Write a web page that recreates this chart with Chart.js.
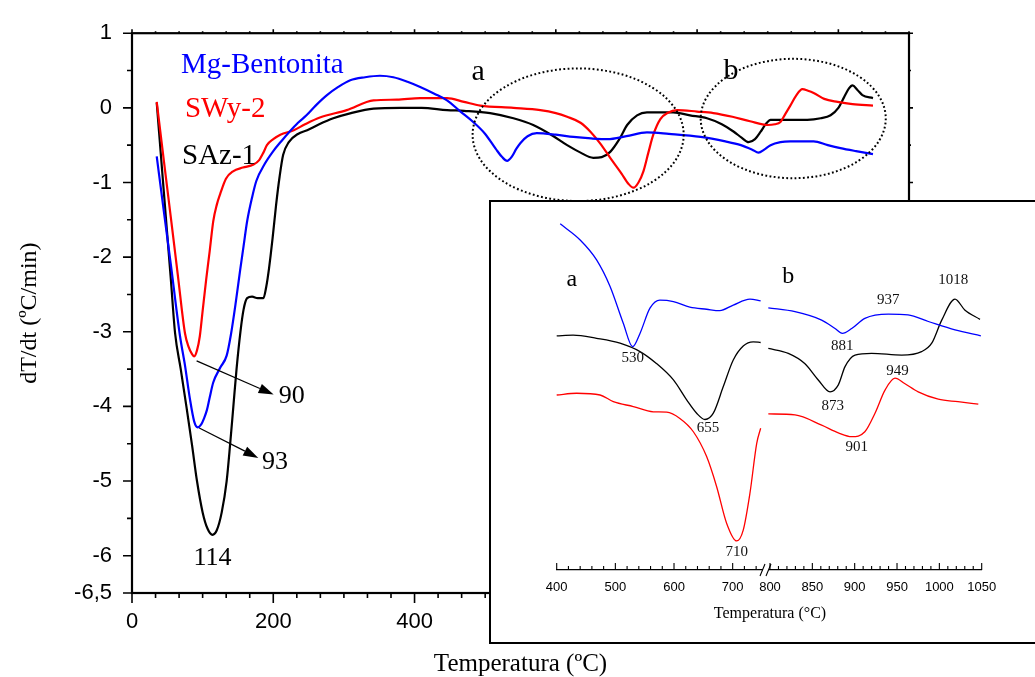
<!DOCTYPE html>
<html>
<head>
<meta charset="utf-8">
<script src="https://cdn.jsdelivr.net/npm/chart.js@4.4.1/dist/chart.umd.min.js"></script>
<style>
  html, body { margin: 0; padding: 0; background: #fff; overflow: hidden; }
  #wrap { position: relative; width: 1035px; height: 677px; overflow: hidden; }
  #main { position: absolute; left: 0; top: 0; }
  #insetBox { position: absolute; left: 489px; top: 200px; width: 600px; height: 444px;
              box-sizing: border-box; border: 2px solid #000; background: #fff; }
  #insetA { position: absolute; left: 489px; top: 200px; }
  #insetB { position: absolute; left: 700px; top: 200px; }
  #insetTitle { position: absolute; left: 690px; top: 604px; width: 160px; text-align: center;
                font: 16px "Liberation Serif", serif; line-height: 18px; color: #000; }
</style>
</head>
<body>
<div id="wrap">
  <canvas id="main" width="1035" height="677"></canvas>
  <div id="insetBox"></div>
  <canvas id="insetA" width="290" height="444"></canvas>
  <canvas id="insetB" width="335" height="444"></canvas>
  <div id="insetTitle">Temperatura (°C)</div>
</div>
<script>
// ---- main curves: temperature (ºC) and dT/dt (ºC/min) ----
const blueT = [35,45,55,68,75,82,88,93,98,102,106,110,115,125,134,140,147,153,158,163,170,176,188,200,212,223,235,247,260,276,292,309,330,351,370,390,408,428,446,465,483,500,515,524,531,538,544,550,560,573,600,625,650,673,700,729,760,805,840,862,878,887,895,904,918,932,950,965,985,1003,1025,1049];
const blueV = [-0.65,-1.38,-2.1,-3.06,-3.45,-3.9,-4.2,-4.28,-4.24,-4.16,-4.05,-3.88,-3.68,-3.48,-3.32,-3.04,-2.6,-2.18,-1.85,-1.52,-1.2,-0.98,-0.75,-0.58,-0.44,-0.32,-0.2,-0.1,0.03,0.17,0.28,0.37,0.41,0.43,0.41,0.35,0.28,0.19,0.1,-0.05,-0.19,-0.35,-0.55,-0.66,-0.71,-0.65,-0.55,-0.47,-0.38,-0.34,-0.36,-0.39,-0.41,-0.42,-0.38,-0.33,-0.35,-0.39,-0.45,-0.5,-0.56,-0.6,-0.56,-0.5,-0.46,-0.45,-0.45,-0.45,-0.5,-0.54,-0.58,-0.62];

const redT = [35,45,55,65,75,80,85,88,92,96,100,105,110,115,120,125,133,143,157,172,180,186,191,200,210,229,245,266,304,342,375,408,446,470,493,540,578,600,616,635,649,663,677,693,703,710,717,724,731,738,748,758,772,800,823,850,875,900,910,918,925,932,940,949,957,965,980,999,1020,1049];
const redV = [0.08,-0.7,-1.47,-2.25,-3.02,-3.2,-3.3,-3.33,-3.25,-3.06,-2.72,-2.3,-1.92,-1.52,-1.3,-1.15,-0.95,-0.85,-0.8,-0.76,-0.7,-0.6,-0.5,-0.42,-0.36,-0.3,-0.22,-0.13,-0.03,0.1,0.11,0.13,0.13,0.08,0.03,0.0,-0.03,-0.07,-0.12,-0.2,-0.32,-0.48,-0.67,-0.88,-1.02,-1.07,-1.0,-0.85,-0.6,-0.36,-0.15,-0.07,-0.03,-0.05,-0.07,-0.12,-0.18,-0.23,-0.22,-0.19,-0.08,0.03,0.16,0.25,0.23,0.2,0.12,0.08,0.05,0.03];

const blackT = [35,45,55,61,69,77,85,92,100,107,114,120,127,134,139,143.5,148,153.5,158,163,170,178,186,190,194,199,204,209,214,222,235,248,265,285,310,342,380,410,446,470,507,540,568,595,616,635,653,665,677,690,701,715,729,766,790,814,835,852,863,873,882,890,897,904,930,956,975,989,1000,1008,1015,1020,1027,1034,1049];
const blackV = [0.07,-1.12,-2.3,-3.02,-3.5,-4.0,-4.52,-5.0,-5.42,-5.64,-5.72,-5.66,-5.42,-5.0,-4.5,-4.0,-3.5,-3.0,-2.7,-2.55,-2.53,-2.55,-2.55,-2.4,-2.15,-1.75,-1.3,-0.92,-0.63,-0.46,-0.35,-0.3,-0.22,-0.14,-0.07,-0.01,0,0,-0.03,-0.04,-0.07,-0.14,-0.23,-0.37,-0.5,-0.6,-0.67,-0.66,-0.59,-0.42,-0.23,-0.1,-0.06,-0.06,-0.1,-0.14,-0.22,-0.32,-0.4,-0.46,-0.42,-0.32,-0.22,-0.16,-0.16,-0.16,-0.14,-0.1,0.0,0.14,0.26,0.3,0.24,0.17,0.13];

// ---- inset, part a (400-750 ºC), arbitrary offset units ----
const blueAT = [406,440,468,491,513.5,529.5,542,559,576,599,627,655.6,678,701,729.5,747.7];
const blueAV = [98.9,94.3,88.6,81.0,70.5,63.8,67.6,74.8,77.1,76.7,75.1,74.5,74.1,75.7,77.4,76.9];
const blackAT = [400,428,468,508,542,570,599,621.6,638.6,652.8,667,684,701,718,735,747.7];
const blackAV = [66.9,67.1,66.2,64.8,62.4,59.0,54.3,48.6,44.8,43.0,44.8,52.4,60.0,64.0,65.2,65.0];
const redAT = [400,434,474,496.5,530.6,564.6,587.5,610,633,655.6,672.7,689.8,706.8,718,729.5,741,747.7];
const redAV = [50.0,50.5,50.0,48.1,46.7,45.2,45.1,43.3,39.5,32.4,23.8,13.3,8.3,11.4,22.0,36.2,40.5];

// ---- inset, part b (800-1050 ºC) ----
const blueBT = [798,829.5,861,876.8,885.4,896.5,912,939.7,963,987,1018.5,1049];
const blueBV = [74.9,73.8,71.4,69.0,67.6,69.0,71.9,73.1,72.9,71.0,68.6,66.9];
const blackBT = [798,821.6,841,857,870.9,880.7,888.6,900.4,920,955.5,979,991,1002.8,1018.5,1030,1048];
const blackBV = [63.3,61.9,59.0,54.3,50.9,52.9,58.1,61.4,61.9,61.4,62.4,64.8,71.4,77.4,74.3,71.6];
const redBT = [798,829.5,861,880.7,896.5,912,924,935.8,947.6,959,975,998.7,1022,1046];
const redBV = [44.6,44.3,41.4,39.2,38.1,39.5,44.8,51.4,54.8,53.3,50.9,48.8,48.1,47.4];

// peak labels
const peakLabelsA = ['530', '655', '710'];
const peakTempsA = [529.5, 658, 706.8];
const peakLevelsA = [60.5, 40.5, 5.2];
const peakLabelsB = ['881', '937', '1018', '873', '949', '901'];
const peakTempsB = [885.4, 939.7, 1016.5, 874, 950.5, 902.4];
const peakLevelsB = [64, 77.1, 82.7, 46.7, 56.9, 35.2];

const SERIF = "'Liberation Serif', 'Times New Roman', serif";
const SANS = "'Liberation Sans', Arial, sans-serif";
const BLUE = '#0000ff', RED = '#ff0000', BLACK = '#000000';

function pts(t, v) { return t.map((x, i) => ({x: x, y: v[i]})); }

function text(ctx, s, px, py, size, color, align, base) {
  ctx.font = size + 'px ' + SERIF;
  ctx.fillStyle = color;
  ctx.textAlign = align || 'center';
  ctx.textBaseline = base || 'alphabetic';
  ctx.fillText(s, px, py);
}

function arrow(ctx, x1, y1, x2, y2) {
  const ang = Math.atan2(y2 - y1, x2 - x1), len = 15, w = 5;
  const bx = x2 - len * Math.cos(ang), by = y2 - len * Math.sin(ang);
  ctx.beginPath();
  ctx.moveTo(x1, y1); ctx.lineTo(bx, by);
  ctx.stroke();
  ctx.beginPath();
  ctx.moveTo(x2, y2);
  ctx.lineTo(bx + w * Math.sin(ang), by - w * Math.cos(ang));
  ctx.lineTo(bx - w * Math.sin(ang), by + w * Math.cos(ang));
  ctx.closePath();
  ctx.fill();
}

// frame and tick marks of the main plot
const mainFrame = {
  id: 'mainFrame',
  afterDatasetsDraw(chart) {
    const {ctx, chartArea: a, scales: {x, y}} = chart;
    ctx.save();
    ctx.strokeStyle = '#000';
    ctx.lineWidth = 1.6;
    ctx.beginPath();
    for (let i = 0; i <= 33; i++) {
      const v = i * 200 / 6;
      const p = x.getPixelForValue(v);
      const major = i % 6 === 0;
      ctx.moveTo(p, a.bottom); ctx.lineTo(p, a.bottom + (major ? 10 : 5));
      ctx.moveTo(p, a.top); ctx.lineTo(p, a.top - (major ? 4 : 2));
    }
    for (let i = 0; i <= 15; i++) {
      const v = -6.5 + i * 0.5;
      const p = y.getPixelForValue(v);
      const major = Number.isInteger(v) || i === 0;
      ctx.moveTo(a.left, p); ctx.lineTo(a.left - (major ? 9 : 5), p);
      ctx.moveTo(a.right, p); ctx.lineTo(a.right + (major ? 4 : 2), p);
    }
    ctx.stroke();
    ctx.lineWidth = 2.2;
    ctx.strokeRect(a.left, a.top, a.right - a.left, a.bottom - a.top);
    ctx.restore();
  }
};

// legend words, dotted rings, arrows and peak labels of the main plot
const mainNotes = {
  id: 'mainNotes',
  afterDatasetsDraw(chart) {
    const {ctx, scales: {x, y}} = chart;
    const X = v => x.getPixelForValue(v), Y = v => y.getPixelForValue(v);
    ctx.save();
    ctx.strokeStyle = '#000';
    ctx.lineWidth = 2;
    ctx.setLineDash([1.8, 2.4]);
    [[631.6, -0.36, 149.4, 0.888], [936.1, -0.143, 131, 0.80]].forEach(r => {
      ctx.beginPath();
      ctx.ellipse(X(r[0]), Y(r[1]), X(r[0] + r[2]) - X(r[0]), Y(r[1]) - Y(r[1] + r[3]), 0, 0, 2 * Math.PI);
      ctx.stroke();
    });
    ctx.setLineDash([]);
    ctx.lineWidth = 1.2;
    ctx.fillStyle = '#000';
    arrow(ctx, X(91.5), Y(-3.39), X(200.5), Y(-3.84));
    arrow(ctx, X(95.2), Y(-4.29), X(178.8), Y(-4.69));

    text(ctx, 'Mg-Bentonita', X(69.4), Y(0.47), 29, BLUE, 'left');
    text(ctx, 'SWy-2', X(75), Y(-0.12), 29, RED, 'left');
    text(ctx, 'SAz-1', X(70.8), Y(-0.75), 29, BLACK, 'left');
    text(ctx, 'a', X(490), Y(0.37), 30, BLACK);
    text(ctx, 'b', X(848), Y(0.39), 30, BLACK);
    text(ctx, '90', X(226), Y(-3.96), 26, BLACK);
    text(ctx, '93', X(202.5), Y(-4.84), 26, BLACK);
    text(ctx, '114', X(114), Y(-6.13), 26, BLACK);
    ctx.restore();
  }
};

new Chart(document.getElementById('main'), {
  type: 'line',
  data: {
    datasets: [
      {label: 'Mg-Bentonita', data: pts(blueT, blueV), borderColor: BLUE},
      {label: 'SWy-2', data: pts(redT, redV), borderColor: RED},
      {label: 'SAz-1', data: pts(blackT, blackV), borderColor: BLACK}
    ]
  },
  options: {
    responsive: false,
    animation: false,
    devicePixelRatio: 1,
    layout: {padding: {left: 0, top: 27, right: 126, bottom: 0}},
    plugins: {legend: {display: false}, tooltip: {enabled: false}},
    elements: {
      point: {radius: 0},
      line: {borderWidth: 2.2, cubicInterpolationMode: 'monotone', fill: false}
    },
    scales: {
      x: {
        type: 'linear', min: 0, max: 1100,
        grid: {display: false, drawTicks: false},
        border: {display: false},
        ticks: {
          stepSize: 200, padding: 16, color: '#000', maxRotation: 0, autoSkip: false,
          includeBounds: false,
          font: {family: SANS, size: 22},
          callback: v => (v % 200 === 0 ? String(v) : '')
        },
        title: {display: true, text: 'Temperatura (ºC)', color: '#000',
                font: {family: SERIF, size: 25}, padding: {top: 0, bottom: -2}},
        afterFit: s => { s.height = 84; }
      },
      y: {
        type: 'linear', min: -6.5, max: 1,
        grid: {display: false, drawTicks: false},
        border: {display: false},
        ticks: {
          stepSize: 1, padding: 20, color: '#000', autoSkip: false,
          font: {family: SANS, size: 22},
          callback: v => (v === -6.5 ? '-6,5' : (Number.isInteger(v) ? String(v) : ''))
        },
        title: {display: true, text: 'dT/dt (ºC/min)', color: '#000',
                font: {family: SERIF, size: 24}, padding: {top: 15, bottom: 0}},
        afterFit: s => { s.width = 132; }
      }
    }
  },
  plugins: [mainFrame, mainNotes]
});

// one half of the broken-axis inset
function insetChart(id, sets, min, max, minorStep, majorStep, pad, labels, temps, levels, letter, isLeft) {
  const notes = {
    id: 'notes' + id,
    afterDatasetsDraw(chart) {
      const {ctx, chartArea: a, scales: {x, y}} = chart;
      ctx.save();
      ctx.strokeStyle = '#000';
      ctx.lineWidth = 1.1;
      ctx.beginPath();
      for (let i = 0; ; i++) {
        const v = min + i * minorStep;
        if (v > max + 1e-9) break;
        const p = x.getPixelForValue(v);
        const major = Math.abs(v / majorStep - Math.round(v / majorStep)) < 1e-9;
        ctx.moveTo(p, a.bottom); ctx.lineTo(p, a.bottom - (major ? 7 : 4));
      }
      if (isLeft) {
        const r = a.right;
        ctx.moveTo(r - 2, a.bottom + 6); ctx.lineTo(r + 3, a.bottom - 6);
        ctx.moveTo(r + 4, a.bottom + 6); ctx.lineTo(r + 9, a.bottom - 6);
      }
      ctx.stroke();
      text(ctx, letter[0], x.getPixelForValue(letter[1]), y.getPixelForValue(letter[2]), 24, BLACK, 'center', 'middle');
      labels.forEach((s, i) => {
        text(ctx, s, x.getPixelForValue(temps[i]), y.getPixelForValue(levels[i]), 15, '#111', 'center', 'middle');
      });
      ctx.restore();
    }
  };
  return new Chart(document.getElementById(id), {
    type: 'line',
    data: {
      datasets: sets.map(s => ({data: pts(s[0], s[1]), borderColor: s[2], clip: false}))
    },
    options: {
      responsive: false,
      animation: false,
      devicePixelRatio: 1,
      layout: {padding: {left: pad[0], right: pad[1], top: 20, bottom: 0}},
      plugins: {legend: {display: false}, tooltip: {enabled: false}},
      elements: {
        point: {radius: 0},
        line: {borderWidth: 1.3, cubicInterpolationMode: 'monotone', fill: false}
      },
      scales: {
        x: {
          type: 'linear', min: min, max: max,
          grid: {display: false, drawTicks: false},
          border: {display: true, color: '#000', width: 1.2},
          ticks: {
            stepSize: majorStep, padding: 10, color: '#000', maxRotation: 0, autoSkip: false,
            includeBounds: false,
            font: {family: SANS, size: 13},
            callback: v => (v % majorStep === 0 ? String(v) : '')
          },
          afterFit: s => { s.height = 74; }
        },
        y: {type: 'linear', min: 0, max: 100, display: false}
      }
    },
    plugins: [notes]
  });
}

insetChart('insetA',
  [[blueAT, blueAV, BLUE], [blackAT, blackAV, BLACK], [redAT, redAV, RED]],
  400, 750, 20, 100, [67.7, 17],
  peakLabelsA, peakTempsA, peakLevelsA, ['a', 426, 82.9], true);

insetChart('insetB',
  [[blueBT, blueBV, BLUE], [blackBT, blackBV, BLACK], [redBT, redBV, RED]],
  800, 1050, 10, 50, [70, 53.3],
  peakLabelsB, peakTempsB, peakLevelsB, ['b', 821.6, 83.7], false);
</script>
</body>
</html>
